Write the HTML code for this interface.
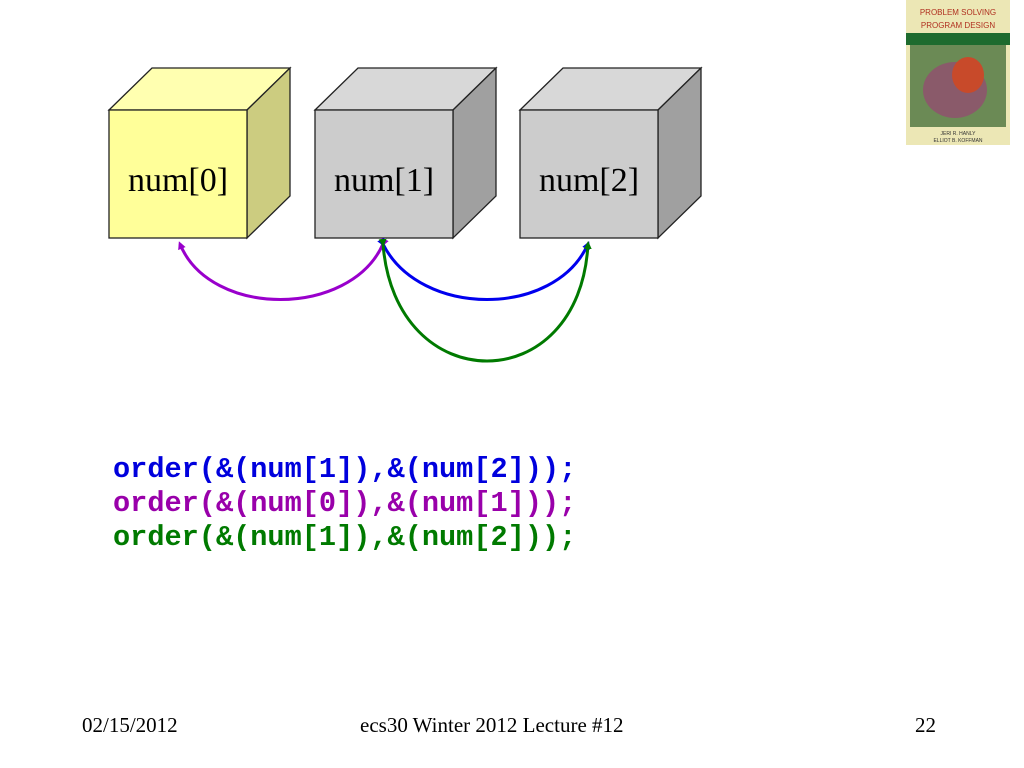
<!DOCTYPE html>
<html><head><meta charset="utf-8"><style>
body{margin:0;width:1024px;height:768px;background:#fff;position:relative;overflow:hidden}
.code{position:absolute;left:113px;font:bold 28.6px "Liberation Mono",monospace;white-space:pre;line-height:34px}
.f{position:absolute;top:713px;font:21px "Liberation Serif",serif;color:#000}
</style></head><body>
<svg width="1024" height="768" style="position:absolute;left:0;top:0">
<defs>
<marker id="mp" markerWidth="8" markerHeight="8" refX="5" refY="4" orient="auto" markerUnits="userSpaceOnUse"><path d="M0,0L8,4L0,8z" fill="#9900cc"/></marker>
<marker id="mb" markerWidth="8" markerHeight="8" refX="5" refY="4" orient="auto" markerUnits="userSpaceOnUse"><path d="M0,0L8,4L0,8z" fill="#0000ee"/></marker>
<marker id="mg" markerWidth="8" markerHeight="8" refX="5" refY="4" orient="auto" markerUnits="userSpaceOnUse"><path d="M0,0L8,4L0,8z" fill="#007a00"/></marker>
</defs>
<g stroke="#222" stroke-width="1.3">
<polygon points="109,110 152,68 290,68 247,110" fill="#ffffb0"/>
<polygon points="247,110 290,68 290,196 247,238" fill="#cccc80"/>
<rect x="109" y="110" width="138" height="128" fill="#ffff99"/>
<polygon points="315,110 358,68 496,68 453,110" fill="#d8d8d8"/>
<polygon points="453,110 496,68 496,196 453,238" fill="#a0a0a0"/>
<rect x="315" y="110" width="138" height="128" fill="#cccccc"/>
<polygon points="520,110 563,68 701,68 658,110" fill="#d8d8d8"/>
<polygon points="658,110 701,68 701,196 658,238" fill="#a0a0a0"/>
<rect x="520" y="110" width="138" height="128" fill="#cccccc"/>
</g>
<g font-family="Liberation Serif,serif" font-size="34" text-anchor="middle">
<text x="178" y="191">num[0]</text><text x="384" y="191">num[1]</text><text x="589" y="191">num[2]</text>
</g>
<g fill="none" stroke-width="3">
<path d="M383,244 C350,318 210,318 180,244" stroke="#9900cc" marker-start="url(#mp)" marker-end="url(#mp)"/>
<path d="M383,244 C420,318 555,318 588,244" stroke="#0000ee" marker-start="url(#mb)" marker-end="url(#mb)"/>
<path d="M383,244 C395,400 580,400 588,244" stroke="#007a00" marker-start="url(#mg)" marker-end="url(#mg)"/>
</g>
<rect x="906" y="0" width="104" height="145" fill="#ece7b5"/>
<rect x="906" y="33" width="104" height="12" fill="#1e6b2e"/>
<rect x="910" y="45" width="96" height="82" fill="#6b8a55"/>
<ellipse cx="955" cy="90" rx="32" ry="28" fill="#8a5a6a"/>
<ellipse cx="968" cy="75" rx="16" ry="18" fill="#c84a2a"/>
<text x="958" y="15" font-size="8" font-family="Liberation Sans" fill="#b03020" text-anchor="middle">PROBLEM SOLVING</text>
<text x="958" y="28" font-size="8" font-family="Liberation Sans" fill="#b03020" text-anchor="middle">PROGRAM DESIGN</text>
<text x="958" y="135" font-size="5" font-family="Liberation Sans" fill="#333" text-anchor="middle">JERI R. HANLY</text>
<text x="958" y="142" font-size="5" font-family="Liberation Sans" fill="#333" text-anchor="middle">ELLIOT B. KOFFMAN</text>
</svg>
<div class="code" style="top:453px;color:#0000dd">order(&amp;(num[1]),&amp;(num[2]));</div>
<div class="code" style="top:487px;color:#9900aa">order(&amp;(num[0]),&amp;(num[1]));</div>
<div class="code" style="top:521px;color:#007a00">order(&amp;(num[1]),&amp;(num[2]));</div>
<div class="f" style="left:82px">02/15/2012</div>
<div class="f" style="left:360px">ecs30 Winter 2012 Lecture #12</div>
<div class="f" style="left:915px">22</div>
</body></html>
